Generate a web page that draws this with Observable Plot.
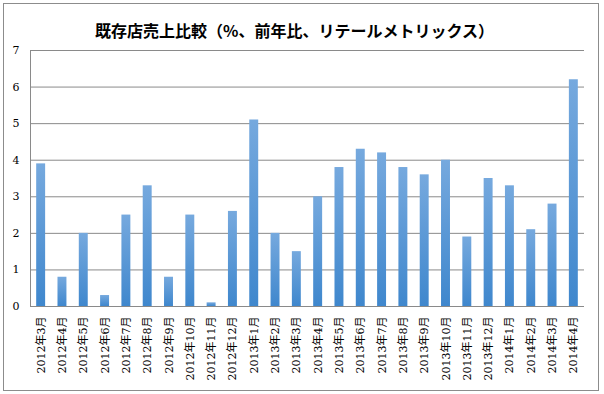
<!DOCTYPE html>
<html>
<head>
<meta charset="utf-8">
<script src="https://cdn.jsdelivr.net/npm/d3@7"></script>
<script src="https://cdn.jsdelivr.net/npm/@observablehq/plot@0.6"></script>
<style>
  body { margin: 0; background: #fff; }
  #wrap { position: relative; width: 604px; height: 394px; }
  #border { position: absolute; left: 3px; top: 3px; width: 594px; height: 386px; border: 1px solid #8c8c8c; pointer-events: none; }
</style>
</head>
<body>
<div id="wrap"><div id="border"></div></div>
<script>
const title = "既存店売上比較（%、前年比、リテールメトリックス）";
const months = ["2012年3月","2012年4月","2012年5月","2012年6月","2012年7月","2012年8月","2012年9月","2012年10月","2012年11月","2012年12月",
  "2013年1月","2013年2月","2013年3月","2013年4月","2013年5月","2013年6月","2013年7月","2013年8月","2013年9月","2013年10月","2013年11月","2013年12月",
  "2014年1月","2014年2月","2014年3月","2014年4月"];
const values = [3.9,0.8,2.0,0.3,2.5,3.3,0.8,2.5,0.1,2.6,5.1,2.0,1.5,3.0,3.8,4.3,4.2,3.8,3.6,4.0,1.9,3.5,3.3,2.1,2.8,6.2];
const yTicks = [0,1,2,3,4,5,6,7];

const data = months.map((m, i) => ({month: m, value: values[i]}));

const chart = Plot.plot({
  width: 604,
  height: 394,
  marginLeft: 30,
  marginRight: 20,
  marginTop: 50,
  marginBottom: 88,
  style: {fontFamily: "'DejaVu Serif', 'Noto Sans CJK JP', serif", fontSize: "11px", color: "#000", background: "transparent"},
  x: {domain: months, paddingInner: 0.58, paddingOuter: 0.29, round: false, label: null, tickSize: 0, tickPadding: 10, tickRotate: -90},
  y: {domain: [0, 7], ticks: yTicks, tickFormat: d => String(d), label: null, tickSize: 0, tickPadding: 11},
  marks: [
    Plot.gridY(yTicks, {stroke: "#8a8a8a", strokeOpacity: 1}),
    Plot.barY(data, {x: "month", y: "value", fill: "url(#barGrad)"}),
    Plot.frame({anchor: "left", stroke: "#8a8a8a"}),
    Plot.ruleY([0], {stroke: "#8a8a8a"}),
    Plot.text([title], {frameAnchor: "top", dy: -25, text: d => d, fontSize: 16, fontWeight: "bold", fontFamily: "'Noto Sans CJK JP', sans-serif", dx: -13})
  ]
});

const ns = "http://www.w3.org/2000/svg";
const defs = document.createElementNS(ns, "defs");
const grad = document.createElementNS(ns, "linearGradient");
grad.setAttribute("id", "barGrad");
grad.setAttribute("x1", "0"); grad.setAttribute("y1", "0");
grad.setAttribute("x2", "0"); grad.setAttribute("y2", "1");
[["0%", "#76a9de"], ["100%", "#3f87cd"]].forEach(([o, c]) => {
  const s = document.createElementNS(ns, "stop");
  s.setAttribute("offset", o); s.setAttribute("stop-color", c);
  grad.appendChild(s);
});
defs.appendChild(grad);
chart.insertBefore(defs, chart.firstChild);
document.getElementById("wrap").appendChild(chart);
</script>
</body>
</html>
